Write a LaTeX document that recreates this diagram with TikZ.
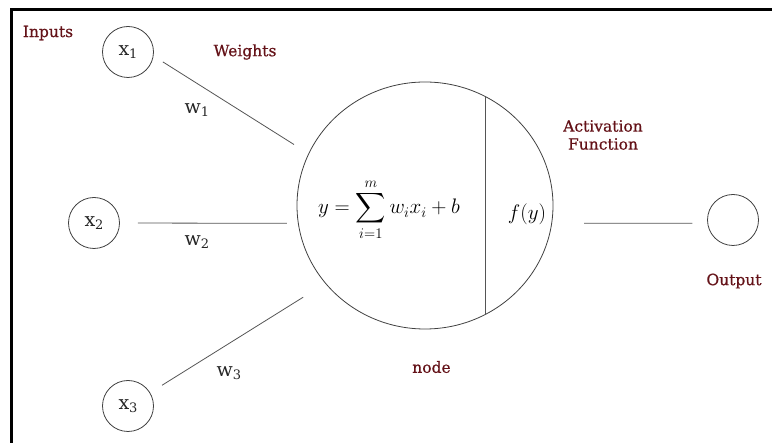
\RequirePackage{fix-cm}
\documentclass[tikz,border=0pt]{standalone}
\usepackage{amsmath}
\usepackage{fontspec}
\setmainfont{DejaVu Serif}
\newfontfamily\lblfont[FakeBold=0.6]{DejaVu Serif}
\usetikzlibrary{shapes.geometric}
\DeclareFontShape{OMX}{cmex}{m}{n}{<-7.5> cmex7 <7.5-8.5> cmex8 <8.5-9.5> cmex9 <9.5-> cmex10}{}
\definecolor{lblred}{RGB}{100,18,24}
\definecolor{linegray}{RGB}{85,85,85}
\newcommand{\lblsub}[1]{\raisebox{-3.5pt}{\fontsize{13}{14}\selectfont #1}}
\tikzset{
  inpt/.style={circle, draw=black!75, line width=0.8pt, minimum size=51pt, inner sep=0pt,
    font=\fontsize{19}{22}\selectfont, text=black!85},
  lbl/.style={text=lblred, font=\lblfont\fontsize{15.5}{20}\selectfont, align=center, inner sep=0pt},
  wlbl/.style={text=black!85, font=\fontsize{19}{22}\selectfont, inner sep=0pt},
  conn/.style={draw=linegray, line width=0.8pt},
  mathlbl/.style={inner sep=0pt, font=\fontsize{21}{25}\selectfont},
}
\begin{document}
\begin{tikzpicture}[x=1pt,y=-1pt]
\useasboundingbox (0,0) rectangle (772,443);
% frame (top and left only)
\draw[line width=3pt, line cap=rect] (11,443) -- (11,10) -- (772,10);

% nodes
\node[inpt] (x1) at (128,52) {x\lblsub{1}};
\node[inpt] (x2) at (94,223) {x\lblsub{2}};
\node[inpt] (x3) at (128,406) {x\lblsub{3}};
\node[inpt] (out) at (733,220) {};
\node[ellipse, draw=black!75, line width=0.8pt, minimum width=256pt, minimum height=247pt, inner sep=0pt] (sum) at (425,205.5) {};

% divider inside the node
\coordinate (dtop) at (485,97);
\coordinate (dbot) at (485,315);
\draw[conn] (dtop) -- (dbot);

% formula and activation
\node[mathlbl] (formula) at (389,210) {$y=\displaystyle\sum_{i=1}^{m} w_i x_i + b$};
\node[mathlbl] (fy) at (527,214) {$f(y)$};

% connectors
\draw[conn, shorten <=11pt, shorten >=17pt] (x1.-9) -- (sum.156);
\draw[conn, shorten <=18pt, shorten >=11pt] (x2.0) -- (sum.188);
\draw[conn, shorten <=14pt, shorten >=26pt] (x3.31.5) -- (sum.218);
\draw[conn, shorten <=32pt, shorten >=15pt] (sum.-8) -- (out.187.7);

% weight labels
\node[wlbl] (w1) at (197,110) {w\lblsub{1}};
\node[wlbl] (w2) at (197,242) {w\lblsub{2}};
\node[wlbl] (w3) at (229,373) {w\lblsub{3}};

% red labels
\node[lbl] (inputs) at (48,33) {Inputs};
\node[lbl] (weights) at (245,52) {Weights};
\node[lbl] (act) at (603,135) {Activation\\[-2pt]Function};
\node[lbl] (output) at (734,281) {Output};
\node[lbl] (nodelbl) at (431.5,367) {node};
\end{tikzpicture}
\end{document}
